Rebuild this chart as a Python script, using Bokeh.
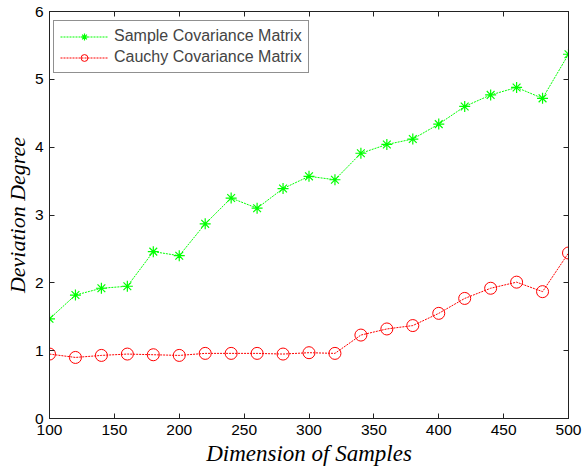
from bokeh.plotting import figure
from bokeh.models import LinearAxis, Range1d, FixedTicker, Legend, LegendItem, CustomJSTickFormatter
from bokeh.embed import file_html
from bokeh.resources import INLINE

dims = [100, 120, 140, 160, 180, 200, 220, 240, 260, 280, 300,
        320, 340, 360, 380, 400, 420, 440, 460, 480, 500]
sample_cov = [1.47, 1.82, 1.92, 1.95, 2.46, 2.40, 2.87, 3.25, 3.10, 3.39, 3.57,
              3.52, 3.91, 4.04, 4.12, 4.34, 4.60, 4.77, 4.88, 4.72, 5.37]
cauchy_cov = [0.95, 0.90, 0.93, 0.95, 0.94, 0.93, 0.96, 0.96, 0.96, 0.95, 0.97,
              0.96, 1.23, 1.32, 1.37, 1.55, 1.77, 1.92, 2.01, 1.87, 2.44]
x_ticks = [100, 150, 200, 250, 300, 350, 400, 450, 500]
y_ticks = [0, 1, 2, 3, 4, 5, 6]
series_names = ["Sample Covariance Matrix", "Cauchy Covariance Matrix"]

p = figure(width=582, height=470, output_backend="svg", toolbar_location=None,
           x_range=Range1d(100, 500), y_range=Range1d(0, 6),
           min_border_left=49, min_border_right=14, min_border_top=11, min_border_bottom=52)
p.background_fill_color = "white"
p.border_fill_color = "white"
p.outline_line_color = "#222222"
p.grid.visible = False

tick_font = "Liberation Sans"
for ax in [p.xaxis[0], p.yaxis[0]]:
    ax.major_tick_in = 5
    ax.major_tick_out = 0
    ax.minor_tick_in = 0
    ax.minor_tick_out = 0
    ax.major_label_text_font = tick_font
    ax.major_label_text_font_size = "15.5px"
    ax.major_label_text_color = "black"
    ax.axis_line_color = "#222222"
    ax.major_tick_line_color = "#222222"
    ax.axis_label_text_font = "Liberation Serif"
    ax.axis_label_text_font_style = "italic"
    ax.axis_label_text_color = "black"

p.xaxis[0].axis_label_text_font_size = "23px"
p.yaxis[0].axis_label_text_font_size = "22px"
p.xaxis[0].ticker = FixedTicker(ticks=x_ticks)
p.yaxis[0].ticker = FixedTicker(ticks=y_ticks)
p.xaxis[0].axis_label = "Dimension of Samples"
p.yaxis[0].axis_label = "Deviation Degree"
p.xaxis[0].major_label_standoff = 6
p.xaxis[0].axis_label_standoff = 3
p.yaxis[0].major_label_standoff = 6
p.yaxis[0].axis_label_standoff = 2

blank = CustomJSTickFormatter(code="return '';")
top = LinearAxis(ticker=FixedTicker(ticks=x_ticks), formatter=blank,
                 major_tick_in=5, major_tick_out=0, minor_tick_in=0, minor_tick_out=0,
                 axis_line_color="#222222", major_tick_line_color="#222222",
                 major_label_standoff=0)
right = LinearAxis(ticker=FixedTicker(ticks=y_ticks), formatter=blank,
                   major_tick_in=5, major_tick_out=0, minor_tick_in=0, minor_tick_out=0,
                   axis_line_color="#222222", major_tick_line_color="#222222",
                   major_label_standoff=0)
p.add_layout(top, "above")
p.add_layout(right, "right")

gl = p.line(dims, sample_cov, line_color="#00ff00", line_width=1, line_dash="2 1")
gm = p.scatter(dims, sample_cov, marker="asterisk", size=11, line_color="#00ff00", line_width=1.2)
rl = p.line(dims, cauchy_cov, line_color="#ff0000", line_width=1, line_dash="2 1")
rm = p.scatter(dims, cauchy_cov, marker="circle", size=12, fill_color=None,
               line_color="#ff0000", line_width=1)

legend = Legend(items=[LegendItem(label=series_names[0], renderers=[gl, gm]),
                       LegendItem(label=series_names[1], renderers=[rl, rm])],
                location="top_left")
legend.label_text_font = tick_font
legend.label_text_font_size = "16px"
legend.glyph_width = 48
legend.glyph_height = 17
legend.label_height = 17
legend.spacing = 3
legend.padding = 6
legend.margin = 0
legend.label_standoff = 6
legend.border_line_color = "#222222"
legend.border_line_width = 1
legend.background_fill_alpha = 1
p.add_layout(legend)
legend.location = (4, 345)

open("out.html", "w").write(file_html(p, INLINE))
